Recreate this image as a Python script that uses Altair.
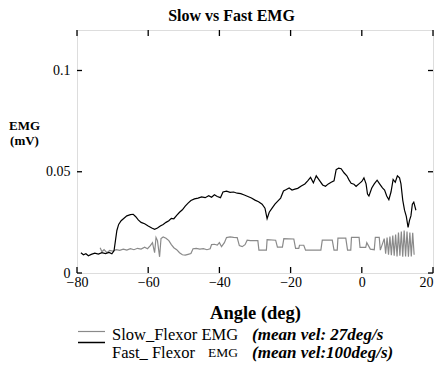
import altair as alt
import pandas as pd

fast_x = [-78.9,-78.2,-77.5,-76.8,-76,-75,-74,-73,-72,-71,-70.2,-69.6,-69.2,-68.8,-68.3,-67.6,-66.8,-66,-65,-64.2,
          -63.5,-62.8,-62,-61,-60,-59,-58.2,-57.4,-56.6,-55.8,-55,-54.2,-53.5,-52.8,-52,-51.2,-50.4,-49.6,-48.8,-48,
          -47,-46,-45,-44,-43,-42.2,-41.4,-40.6,-39.7,-39,-38,-37,-36,-35,-34,-33,-32,-31,-30,-29,
          -28,-27.2,-26.6,-26,-25.2,-24.4,-23.6,-22.8,-22,-21.2,-20.4,-19.6,-18.8,-18,-17,-16,-15.2,-14.4,-13.6,-12.8,
          -12,-11,-10.2,-9.4,-8.6,-7.8,-7.2,-6.5,-5.8,-5,-4.2,-3.6,-3,-2.2,-1.6,-0.8,0,0.6,1.2,1.6,
          2,2.8,3.5,4.3,5,5.8,6.4,7,7.6,8.2,8.8,9.4,10,10.6,11,11.5,12,12.5,13,13.4,
          13.8,14.2,14.6,15.2]
fast_y = [0.0100,0.0090,0.0095,0.0085,0.0092,0.0098,0.0093,0.0100,0.0096,0.0102,0.0095,0.0110,0.0160,0.0210,0.0240,0.0258,0.0270,0.0282,0.0288,0.0290,
          0.0278,0.0262,0.0250,0.0243,0.0232,0.0222,0.0216,0.0222,0.0232,0.0240,0.0250,0.0258,0.0270,0.0268,0.0285,0.0300,0.0312,0.0330,0.0345,0.0358,
          0.0366,0.0370,0.0376,0.0372,0.0382,0.0374,0.0386,0.0378,0.0372,0.0400,0.0404,0.0398,0.0400,0.0394,0.0392,0.0385,0.0378,0.0370,0.0360,0.0352,
          0.0340,0.0320,0.0268,0.0300,0.0320,0.0340,0.0355,0.0370,0.0405,0.0412,0.0420,0.0410,0.0414,0.0418,0.0430,0.0440,0.0455,0.0472,0.0445,0.0480,
          0.0460,0.0435,0.0428,0.0440,0.0448,0.0455,0.0510,0.0518,0.0515,0.0495,0.0480,0.0460,0.0443,0.0438,0.0428,0.0440,0.0452,0.0470,0.0440,0.0390,
          0.0380,0.0420,0.0440,0.0458,0.0440,0.0420,0.0410,0.0380,0.0362,0.0400,0.0462,0.0448,0.0480,0.0470,0.0440,0.0360,0.0310,0.0280,0.0225,0.0260,
          0.0282,0.0340,0.0350,0.0310]

slow_x = [-73.5,-73,-72.4,-71.6,-70.8,-70,-69,-68,-67,-66,-65,-64,-63,-62,-61,-60.2,-59.4,-58.8,-58.2,-57.8,
          -57.4,-56.8,-56.4,-55.8,-55,-54.2,-53.5,-52.8,-52,-51.2,-50.4,-49.6,-48.8,-48,-47.4,-46.5,-45.5,-44.5,-43.5,-42.6,
          -42.2,-41.4,-40.6,-40,-39.4,-38.6,-38,-37,-36,-35,-34.4,-33.6,-32.8,-32.2,-31.3,-29.2,-28.9,-26.8,-26.6,-24.2,
          -23.7,-22.3,-21.9,-19.1,-18.6,-17.7,-17.5,-16.3,-15.8,-11.5,-11.1,-8.3,-7.8,-6.9,-6.7,-4.5,-4.0,-3.1,-2.9,-0.76,
          -0.5,1.1,1.4,2.4,3.5,3.8,4.9,5.2,6.3,6.7,7.1,7.5,7.9,8.3,8.7,9.1,9.5,9.9,10.3,10.7,
          11.1,11.5,11.9,12.3,12.7,13.1,13.5,13.9,14.3,14.7]
slow_y = [0.0125,0.0105,0.0115,0.0100,0.0112,0.0108,0.0115,0.0112,0.0118,0.0113,0.0120,0.0115,0.0122,0.0118,0.0127,0.0120,0.0135,0.0150,0.0100,0.0175,
          0.0160,0.0080,0.0170,0.0178,0.0172,0.0160,0.0140,0.0125,0.0115,0.0100,0.0090,0.0088,0.0092,0.0096,0.0120,0.0122,0.0118,0.0120,0.0115,0.0120,
          0.0140,0.0142,0.0138,0.0150,0.0130,0.0150,0.0175,0.0178,0.0176,0.0175,0.0135,0.0130,0.0140,0.0162,0.0160,0.0160,0.0113,0.0113,0.0165,0.0162,
          0.0128,0.0128,0.0170,0.0168,0.0122,0.0122,0.0137,0.0137,0.0113,0.0113,0.0162,0.0162,0.0113,0.0113,0.0172,0.0172,0.0113,0.0113,0.0176,0.0176,
          0.0127,0.0127,0.0150,0.0118,0.0115,0.0176,0.0176,0.0113,0.0170,0.0095,0.0175,0.0090,0.0180,0.0088,0.0185,0.0085,0.0190,0.0082,0.0200,0.0085,
          0.0205,0.0080,0.0210,0.0082,0.0205,0.0080,0.0200,0.0082,0.0198,0.0090]

series_names = ["Slow_Flexor EMG", "Fast_ Flexor EMG"]
series_colors = ["#8a8a8a", "#000000"]
x_ticks = [-80, -60, -40, -20, 0, 20]
y_ticks = [0, 0.05, 0.1]

FONT = "Liberation Serif"
W, H = 356, 243

df = pd.concat([
    pd.DataFrame({"angle": slow_x, "emg": slow_y, "series": series_names[0], "order": range(len(slow_x))}),
    pd.DataFrame({"angle": fast_x, "emg": fast_y, "series": series_names[1], "order": range(len(fast_x))}),
])

xscale = alt.Scale(domain=[-80, 20], nice=False, zero=False)
yscale = alt.Scale(domain=[0, 0.12], nice=False)

lines = alt.Chart(df).mark_line(strokeWidth=1.2).encode(
    x=alt.X("angle:Q", scale=xscale,
            axis=alt.Axis(values=x_ticks, format="d", ticks=False, domain=False, grid=False, labelFlush=False,
                          labelAlign={"condition": {"test": "datum.value == 20", "value": "right"}, "value": "center"},
                          labelFont=FONT, labelFontSize=14, labelColor="black", labelPadding=2,
                          title="Angle (deg)", titleFont=FONT, titleFontSize=18.5, titleFontWeight="bold",
                          titleColor="black", titlePadding=14)),
    y=alt.Y("emg:Q", scale=yscale,
            axis=alt.Axis(values=y_ticks, labelExpr="datum.value + ''", ticks=False, domain=False, grid=False,
                          labelFlush=False,
                          labelFont=FONT, labelFontSize=14, labelColor="black", labelPadding=7,
                          title=["EMG", "(mV)"], titleAngle=0, titleAlign="center", titleBaseline="middle",
                          titleX=-53, titleY=95, titleFont=FONT, titleFontSize=13, titleFontWeight="bold",
                          titleColor="black", titleLineHeight=15)),
    color=alt.Color("series:N", scale=alt.Scale(domain=series_names, range=series_colors), legend=None),
    detail="series:N",
    order="order:Q",
)

xt = pd.DataFrame({"v": x_ticks})
yt = pd.DataFrame({"v": y_ticks})
xticks_bottom = alt.Chart(xt).mark_tick(color="black", thickness=1.3, size=6, opacity=1).encode(
    x=alt.X("v:Q", scale=xscale), y=alt.value(H - 3))
xticks_top = alt.Chart(xt).mark_tick(color="black", thickness=1.3, size=6, opacity=1).encode(
    x=alt.X("v:Q", scale=xscale), y=alt.value(3))
yticks_left = alt.Chart(yt).mark_tick(color="black", thickness=1.3, size=5, opacity=1).encode(
    y=alt.Y("v:Q", scale=yscale), x=alt.value(2.5))
yticks_right = alt.Chart(yt).mark_tick(color="black", thickness=1.3, size=5, opacity=1).encode(
    y=alt.Y("v:Q", scale=yscale), x=alt.value(W - 2.5))

leg_line1 = alt.Chart(pd.DataFrame({"a": [0]})).mark_rule(color=series_colors[0], strokeWidth=1.2).encode(
    x=alt.value(1), x2=alt.value(28), y=alt.value(301.5))
leg_line2 = alt.Chart(pd.DataFrame({"a": [0]})).mark_rule(color=series_colors[1], strokeWidth=1.5).encode(
    x=alt.value(1), x2=alt.value(28), y=alt.value(312.5))

def txt(s, x, y, size, weight="normal", style="normal", align="left"):
    return alt.Chart(pd.DataFrame({"t": [s]})).mark_text(
        font=FONT, fontSize=size, fontWeight=weight, fontStyle=style, align=align,
        baseline="middle", color="black").encode(text="t:N", x=alt.value(x), y=alt.value(y))

title_t = txt("Slow vs Fast EMG", 154.5, -14.5, 16, "bold", align="center")
leg_t1 = txt("Slow_Flexor EMG", 35, 305, 16.5)
leg_t2a = txt("Fast_ Flexor", 35, 322.5, 16.5)
leg_t2b = txt("EMG", 131, 322.5, 13.5)
note1 = txt("(mean vel: 27deg/s", 175, 305, 17, "bold", "italic")
note2 = txt("(mean vel:100deg/s)", 175, 322.5, 17, "bold", "italic")

chart = alt.layer(
    lines, xticks_bottom, xticks_top, yticks_left, yticks_right,
    leg_line1, leg_line2, title_t, leg_t1, leg_t2a, leg_t2b, note1, note2,
).properties(
    width=W, height=H,
    autosize=alt.AutoSizeParams(type="none"),
    padding={"left": 69, "top": 22, "right": 3, "bottom": 92},
).configure_view(stroke="black", strokeWidth=1.5).configure(background="white")

chart.save("out.html", embed_options={"renderer": "svg", "actions": False})
